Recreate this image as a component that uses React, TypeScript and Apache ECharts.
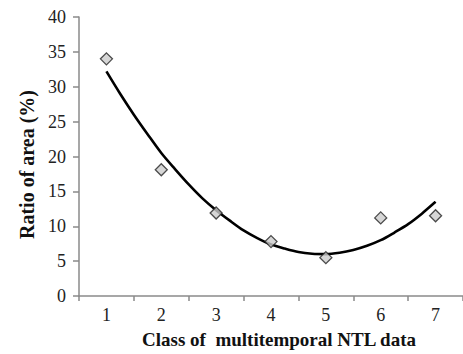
import React, { useEffect, useRef } from "react";
import * as echarts from "echarts";

const categories = ["1", "2", "3", "4", "5", "6", "7"];
const classX = [1, 2, 3, 4, 5, 6, 7];
const ratioValues = [34.0, 18.1, 11.9, 7.8, 5.5, 11.2, 11.5];
const trendX = [1, 1.25, 1.5, 1.75, 2, 2.25, 2.5, 2.75, 3, 3.25, 3.5, 3.75, 4, 4.25, 4.5, 4.75, 5, 5.25, 5.5, 5.75, 6, 6.25, 6.5, 6.75, 7];
const trendValues = [32.2, 29.0, 26.0, 23.2, 20.5, 18.2, 16.0, 14.0, 12.3, 10.8, 9.4, 8.3, 7.4, 6.8, 6.3, 6.05, 6.0, 6.2, 6.6, 7.2, 8.0, 9.1, 10.3, 11.8, 13.5];
const yTicks = [0, 5, 10, 15, 20, 25, 30, 35, 40];

const FONT = "'Liberation Serif', 'Times New Roman', serif";
const AXIS_COLOR = "#8a8a8a";

export default function App() {
  const ref = useRef<HTMLDivElement>(null);
  useEffect(() => {
    if (!ref.current) return;
    const chart = echarts.init(ref.current, null, { renderer: "svg" });
    chart.setOption({
      animation: false,
      backgroundColor: "#ffffff",
      grid: { left: 79, right: -5, top: 17, bottom: 58, containLabel: false },
      xAxis: [
        {
          type: "category",
          data: categories,
          boundaryGap: true,
          axisLine: { lineStyle: { color: AXIS_COLOR, width: 1.5 } },
          axisTick: { show: true, length: 5, lineStyle: { color: AXIS_COLOR, width: 1.5 } },
          axisLabel: { color: "#222", fontFamily: FONT, fontSize: 18, margin: 10 },
          splitLine: { show: false },
          name: "Class of  multitemporal NTL data",
          nameLocation: "middle",
          nameGap: 34,
          nameTextStyle: {
            color: "#111",
            fontFamily: FONT,
            fontSize: 19,
            fontWeight: "bold",
            padding: [0, 0, 0, 16],
          },
        },
        {
          type: "value",
          min: 0.5,
          max: 7.5,
          show: false,
        },
      ],
      yAxis: {
        type: "value",
        min: yTicks[0],
        max: yTicks[yTicks.length - 1],
        interval: 5,
        axisLine: { show: true, lineStyle: { color: AXIS_COLOR, width: 1.5 } },
        axisTick: { show: true, length: 6, lineStyle: { color: AXIS_COLOR, width: 1.5 } },
        axisLabel: { color: "#222", fontFamily: FONT, fontSize: 18, margin: 13 },
        splitLine: { show: false },
        name: "Ratio of area (%)",
        nameLocation: "middle",
        nameGap: 42,
        nameTextStyle: {
          color: "#111",
          fontFamily: FONT,
          fontSize: 20,
          fontWeight: "bold",
          padding: [0, 16, 0, 0],
        },
      },
      series: [
        {
          type: "line",
          xAxisIndex: 1,
          data: trendX.map((x, i) => [x, trendValues[i]]),
          smooth: 0.3,
          showSymbol: false,
          symbol: "none",
          lineStyle: { color: "#000", width: 2.6 },
          z: 2,
        },
        {
          type: "scatter",
          xAxisIndex: 1,
          data: classX.map((x, i) => [x, ratioValues[i]]),
          symbol: "diamond",
          symbolSize: 12,
          itemStyle: { color: "#cccccc", borderColor: "#222", borderWidth: 1.3 },
          z: 3,
        },
      ],
    });
    return () => chart.dispose();
  }, []);
  return (
    <div
      ref={ref}
      style={{ position: "fixed", left: 0, top: 0, width: 463, height: 354, background: "#fff" }}
    />
  );
}
